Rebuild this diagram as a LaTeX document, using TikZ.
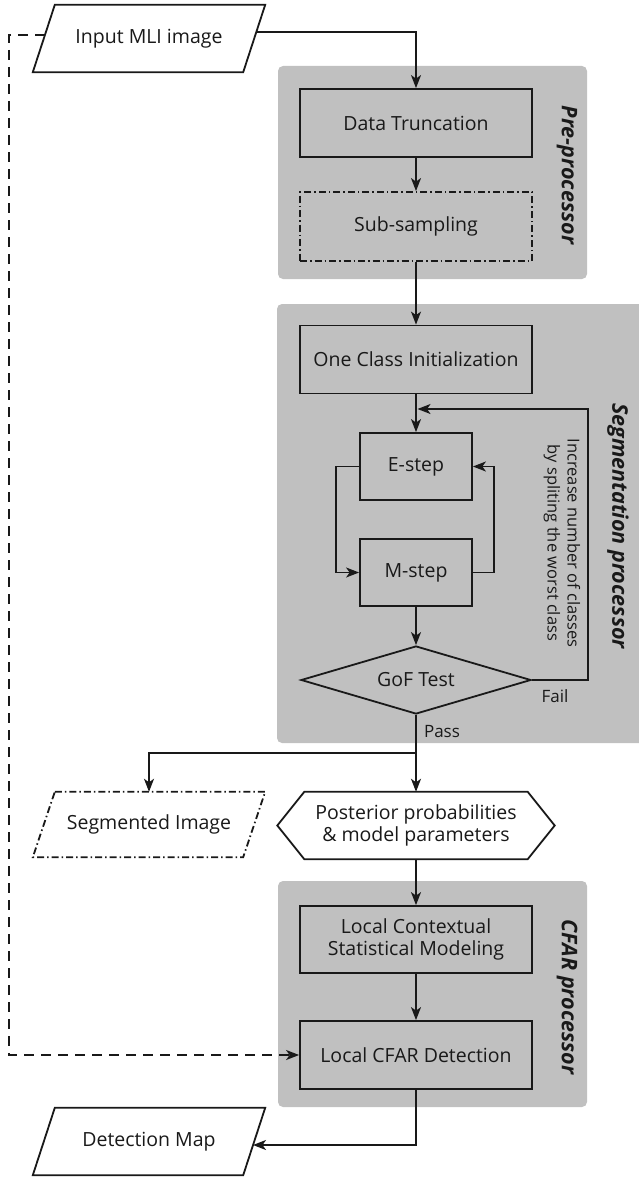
\documentclass[tikz,border=0pt]{standalone}
\usepackage{fontspec}
\setmainfont{Open Sans}
\usetikzlibrary{arrows.meta,shapes.geometric}
\definecolor{panel}{RGB}{192,192,192}
\definecolor{ink}{RGB}{25,25,25}
\begin{document}
\begin{tikzpicture}[x=1pt,y=-1pt,
  font=\fontsize{19.5}{22}\selectfont,
  every node/.style={text=ink},
  ln/.style={line width=1.8pt,draw=ink},
  arr/.style={line width=1.6pt,draw=ink,-{Stealth[length=13pt,width=10pt,inset=3.5pt]}},
  darr/.style={arr,dash pattern=on 10pt off 7pt},
  dashdot/.style={dash pattern=on 7pt off 3pt on 1.5pt off 3pt},
  panelbox/.style={fill=panel,rounded corners=5pt},
  procbox/.style={draw=ink,line width=1.8pt,fill=panel,minimum width=232pt,minimum height=68pt,inner sep=0pt,align=center},
  smallbox/.style={procbox,minimum width=112pt,minimum height=67pt},
  ghost/.style={minimum width=232pt,minimum height=67pt,inner sep=0pt,align=center},
  sidelabel/.style={rotate=-90,font=\fontsize{21.5}{24}\selectfont\bfseries\itshape},
  flowlabel/.style={font=\fontsize{17}{20}\selectfont},
]
\useasboundingbox (0,0) rectangle (638,1180);

% panels
\fill[panelbox] (278,66) rectangle (587,279);
\fill[panelbox] (277,304) rectangle (660,743);
\fill[panelbox] (278,881) rectangle (587,1107);

% input
\node[ghost] (in) at (149,38.5) {Input MLI image};
\draw[ln] ([xshift=22pt]in.north west) -- (in.north east) -- ([xshift=-22pt]in.south east) -- (in.south west) -- cycle;

% pre-processor
\node[procbox] (dt) at (416,123) {Data Truncation};
\node[procbox,dashdot,minimum height=69pt] (ss) at (416,226.5) {Sub-sampling};
\node[sidelabel] (plab) at (567,175) {Pre-processor};

% segmentation
\node[procbox] (oci) at (416,359.5) {One Class Initialization};
\node[smallbox] (e) at (416,466.5) {E-step};
\node[smallbox] (m) at (416,572.5) {M-step};
\node[draw=ink,diamond,aspect=3.38,minimum width=230pt,minimum height=68pt,inner sep=0pt,line width=1.8pt,fill=panel] (gof) at (416,680) {GoF Test};
\node[rotate=-90,align=center,font=\fontsize{16.5}{20}\selectfont] (inc) at (562,543) {Increase number of classes\\by spliting the worst class};
\node[sidelabel] (slab) at (618,526) {Segmentation processor};
\node[flowlabel] (fail) at (555,696) {Fail};
\node[flowlabel] (pass) at (442,732) {Pass};

% outputs of segmentation
\node[ghost,minimum height=65pt] (segi) at (149,824.5) {Segmented Image};
\draw[ln,dashdot] ([xshift=22pt]segi.north west) -- (segi.north east) -- ([xshift=-22pt]segi.south east) -- (segi.south west) -- cycle;
\node[ghost,minimum width=277pt,align=center] (post) at (416,825.5) {Posterior probabilities\\\& model parameters};
\draw[ln] (post.west) -- ([xshift=27pt]post.north west) -- ([xshift=-27pt]post.north east) -- (post.east) -- ([xshift=-27pt]post.south east) -- ([xshift=27pt]post.south west) -- cycle;

% CFAR
\node[procbox,minimum height=67pt] (lcs) at (416,939.5) {Local Contextual\\Statistical Modeling};
\node[procbox] (lcd) at (416,1055) {Local CFAR Detection};
\node[sidelabel] (clab) at (567,997) {CFAR processor};

% detection map
\node[ghost] (dm) at (149,1141.5) {Detection Map};
\draw[ln] ([xshift=22pt]dm.north west) -- (dm.north east) -- ([xshift=-22pt]dm.south east) -- (dm.south west) -- cycle;

% coordinates
\coordinate (inR) at (256,32);
\coordinate (inL) at (45,35);
\coordinate (dc) at (9,35);
\coordinate (fc) at (588,409);
\coordinate (fj) at (417.5,409);
\coordinate (br) at (416,753);
\coordinate (dmR) at (253,1145);

% connectors
\draw[arr] (inR) -| (dt.north);
\draw[arr] (dt.south) -- (ss.north);
\draw[arr] (ss.south) -- (oci.north);
\draw[arr] (oci.south) -- (e.north);
\draw[arr] (e.west) -- ++(-23,0) |- (m.west);
\draw[arr] (m.east) -- ++(21,0) |- (e.east);
\draw[arr] (m.south) -- (gof.north);
\draw[arr] (gof.east) -| (fc) -- (fj);
\draw[arr] (gof.south) -- (post.north);
\draw[arr] (br) -| (segi.north);
\draw[arr] (post.south) -- (lcs.north);
\draw[arr] (lcs.south) -- (lcd.north);
\draw[darr] (inL) -- (dc) |- (lcd.west);
\draw[arr] (lcd.south) |- (dmR);
\end{tikzpicture}
\end{document}
